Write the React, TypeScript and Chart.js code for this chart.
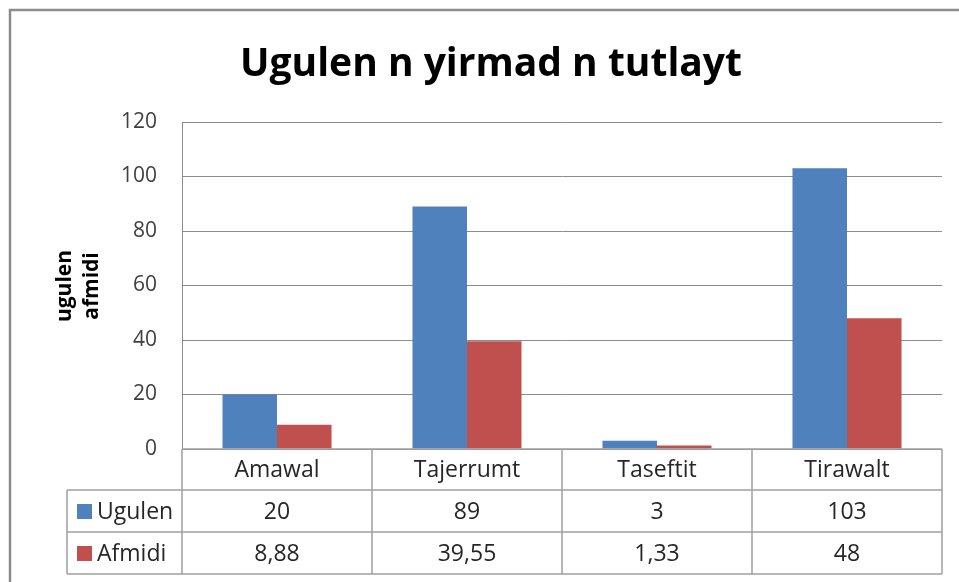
import React, { useEffect, useRef } from "react";
import { Chart, registerables } from "chart.js";

Chart.register(...registerables);

const categories = ["Amawal", "Tajerrumt", "Taseftit", "Tirawalt"];
const seriesNames = ["Ugulen", "Afmidi"];
const ugulenValues = [20, 89, 3, 103];
const afmidiValues = [8.88, 39.55, 1.33, 48];
const yTicks = [0, 20, 40, 60, 80, 100, 120];
const titleText = "Ugulen n yirmad n tutlayt";
const yTitleLines = ["ugulen", "afmidi"];

const BLUE = "#4f81bd";
const RED = "#c0504d";
const FONT = "'Open Sans', 'Noto Sans', sans-serif";

const fmt = (v: number) => String(v).replace(".", ",");

const decorPlugin = {
  id: "decor",
  beforeDraw(chart: any) {
    const ctx = chart.ctx;
    ctx.save();
    ctx.fillStyle = "#ffffff";
    ctx.fillRect(0, 0, chart.width, chart.height);
    ctx.strokeStyle = "#8c8c8c";
    ctx.lineWidth = 2.5;
    ctx.strokeRect(10, 10, chart.width + 20, chart.height + 20);
    ctx.restore();
  },
  afterDraw(chart: any) {
    const ctx = chart.ctx;
    const area = chart.chartArea;
    const x = chart.scales.x;
    ctx.save();
    // title
    ctx.fillStyle = "#000000";
    ctx.font = `bold 39px ${FONT}`;
    ctx.textAlign = "center";
    ctx.textBaseline = "alphabetic";
    ctx.fillText(titleText, 491, 76);

    // y axis title (rotated)
    ctx.save();
    ctx.translate(79, 286);
    ctx.rotate(-Math.PI / 2);
    ctx.font = `bold 21px ${FONT}`;
    ctx.fillStyle = "#000000";
    ctx.textAlign = "center";
    ctx.textBaseline = "middle";
    ctx.fillText(yTitleLines[0], 0, -14);
    ctx.fillText(yTitleLines[1], 0, 13);
    ctx.restore();

    // data table
    const n = categories.length;
    const catW = (area.right - area.left) / n;
    const top = area.bottom;
    const rowH = [41, 42, 42];
    const r1 = top + rowH[0];
    const r2 = r1 + rowH[1];
    const r3 = r2 + rowH[2];
    const legendLeft = 67;

    ctx.strokeStyle = "#a0a0a0";
    ctx.lineWidth = 1.5;
    ctx.beginPath();
    ctx.moveTo(area.left, top);
    ctx.lineTo(area.right, top);
    for (const yy of [r1, r2, r3]) {
      ctx.moveTo(legendLeft, yy);
      ctx.lineTo(area.right, yy);
    }
    for (let i = 0; i <= n; i++) {
      const xx = area.left + i * catW;
      ctx.moveTo(xx, top);
      ctx.lineTo(xx, r3);
    }
    ctx.moveTo(legendLeft, r1);
    ctx.lineTo(legendLeft, r3);
    ctx.stroke();

    ctx.fillStyle = "#262626";
    ctx.font = `23px ${FONT}`;
    ctx.textAlign = "center";
    ctx.textBaseline = "middle";
    const series = [ugulenValues, afmidiValues];
    for (let i = 0; i < n; i++) {
      const cx = x.getPixelForValue(i);
      ctx.fillText(categories[i], cx, (top + r1) / 2 + 1);
      ctx.fillText(fmt(series[0][i]), cx, (r1 + r2) / 2 + 1);
      ctx.fillText(fmt(series[1][i]), cx, (r2 + r3) / 2 + 1);
    }
    const colors = [BLUE, RED];
    const rows = [
      [r1, r2],
      [r2, r3],
    ];
    ctx.textAlign = "left";
    for (let s = 0; s < 2; s++) {
      const cy = (rows[s][0] + rows[s][1]) / 2;
      ctx.fillStyle = colors[s];
      ctx.fillRect(77, cy - 7, 15, 15);
      ctx.fillStyle = "#262626";
      ctx.fillText(seriesNames[s], 97, cy + 1);
    }
    ctx.restore();
  },
};

export default function App() {
  const ref = useRef<HTMLCanvasElement>(null);
  useEffect(() => {
    if (!ref.current) return;
    const chart = new Chart(ref.current, {
      type: "bar",
      data: {
        labels: categories,
        datasets: [
          {
            label: seriesNames[0],
            data: ugulenValues,
            backgroundColor: BLUE,
            categoryPercentage: 0.574,
            barPercentage: 1,
          },
          {
            label: seriesNames[1],
            data: afmidiValues,
            backgroundColor: RED,
            categoryPercentage: 0.574,
            barPercentage: 1,
          },
        ],
      },
      options: {
        responsive: false,
        animation: false,
        layout: { padding: { left: 0, top: 122, right: 17, bottom: 133 } },
        plugins: {
          legend: { display: false },
          title: { display: false },
          tooltip: { enabled: false },
        },
        scales: {
          x: { display: false },
          y: {
            min: 0,
            max: 120,
            afterFit: (scale: any) => {
              scale.width = 182;
            },
            afterBuildTicks: (scale: any) => {
              scale.ticks = yTicks.map((v) => ({ value: v }));
            },
            border: { display: true, color: "#8c8c8c", width: 1 },
            grid: { color: "#8c8c8c", drawTicks: false, lineWidth: 1 },
            ticks: {
              padding: 25,
              color: "#404040",
              font: { family: FONT, size: 21 },
            },
          },
        },
      },
      plugins: [decorPlugin],
    });
    return () => chart.destroy();
  }, []);
  return (
    <div style={{ position: "fixed", left: 0, top: 0, width: 959, height: 582 }}>
      <canvas ref={ref} width={959} height={582} />
    </div>
  );
}
